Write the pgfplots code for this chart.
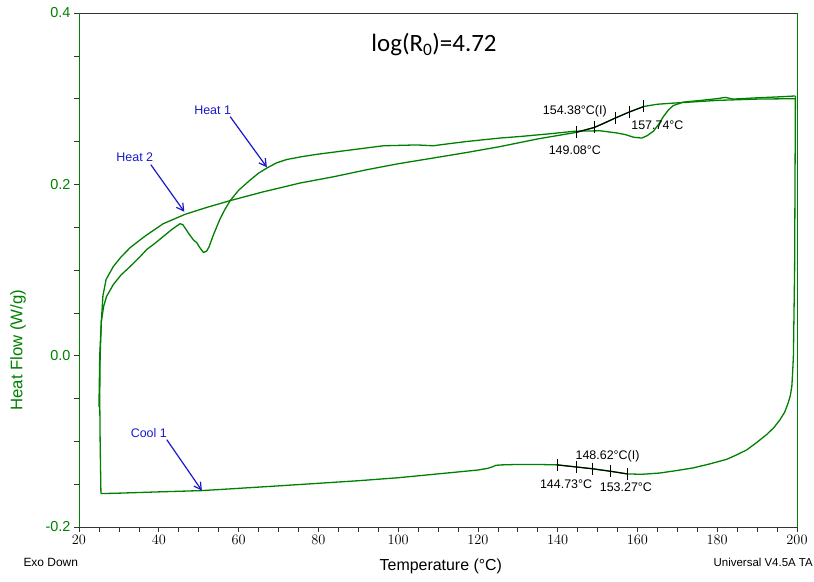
\documentclass[border=0pt]{standalone}
\usepackage{pgfplots}
\pgfplotsset{compat=1.18}
\usepackage{fontspec}
\setmainfont{Liberation Sans}
\newfontfamily\titlefont{Carlito}
\usetikzlibrary{arrows.meta}
\definecolor{dsc}{RGB}{0,128,0}
\definecolor{ann}{RGB}{25,25,205}
\begin{document}
\begin{tikzpicture}
\begin{axis}[
  scale only axis, width=718bp, height=514bp,
  xmin=20, xmax=200, ymin=-0.2, ymax=0.4,
  xtick={20,40,...,200},
  ytick={-0.2,0,0.2,0.4},
  yticklabels={-0.2,0.0,0.2,0.4},
  minor x tick num=3, minor y tick num=3,
  tick align=outside, tick pos=left,
  major tick length=5bp, minor tick length=5bp,
  every tick/.style={black!80, line width=0.6bp},
  separate axis lines,
  x axis line style={black!80, line width=0.8bp},
  y axis line style={dsc, line width=0.9bp},
  yticklabel style={text=dsc, font=\fontsize{14.5}{16}\selectfont},
  xticklabel style={font=\fontsize{14.5}{16}\selectfont},
  xlabel={Temperature (°C)},
  ylabel={Heat Flow (W/g)},
  xlabel style={font=\fontsize{16}{18}\selectfont, at={(axis description cs:0.504,-0.076)}, anchor=center},
  ylabel style={font=\fontsize{16.8}{18}\selectfont, text=dsc, at={(axis description cs:-0.085,0.344)}, anchor=center, rotate=0},
  clip=false,
]
\coordinate (SW) at (rel axis cs:0,0);
\coordinate (NE) at (rel axis cs:1,1);
% Heat 1
\addplot[dsc, line width=1.3bp] coordinates {
(25.0,-0.06) (25.2,0.00) (25.6,0.04) (26.2,0.058) (26.9,0.069) (28.6,0.083)
(30.5,0.094) (32.8,0.104) (35,0.114) (37.0,0.124) (39,0.131) (41.1,0.139)
(43.2,0.147) (45.3,0.154) (46.0,0.153) (46.6,0.149) (47.6,0.142) (48.7,0.135)
(49.5,0.132) (50.3,0.126) (51.2,0.1205) (52.0,0.122) (52.6,0.127) (53.7,0.141)
(55.3,0.159) (56.5,0.170) (57.9,0.181) (60,0.193) (62.9,0.205) (65,0.213)
(67.1,0.219) (69.5,0.225) (72.1,0.229) (75.5,0.232) (79.6,0.235) (87.9,0.240)
(96.3,0.245) (104.7,0.246) (108.8,0.245) (112,0.247) (117.2,0.250) (125.5,0.254)
(131,0.256) (138,0.259) (144.3,0.262) (150.6,0.2625) (154.8,0.260) (157,0.258)
(159,0.255) (161.1,0.254) (162.5,0.257) (164,0.262) (165.3,0.270) (166.5,0.279)
(167.8,0.287) (169,0.292) (171.5,0.296) (176,0.298) (180,0.300) (182,0.3015)
(184,0.2995) (190,0.301) (195,0.302) (199,0.303) (199.6,0.303)
};
% Cool 1
\addplot[dsc, line width=1.3bp] coordinates {
(199.6,0.303) (199.4,0.10) (199.1,0.0) (198.9,-0.02) (198.7,-0.036) (198.3,-0.047)
(197.8,-0.055) (196.9,-0.066) (195.7,-0.075) (194.2,-0.084) (192.4,-0.092)
(190,-0.101) (187.4,-0.110) (185,-0.1155) (182.4,-0.121) (178,-0.1265)
(174,-0.131) (170,-0.134) (165.6,-0.137) (161,-0.1385) (157.4,-0.138)
(153.3,-0.135) (148.7,-0.132) (144.8,-0.130) (139.9,-0.1275) (135,-0.127)
(130,-0.127) (126,-0.1275) (124.5,-0.128) (123.5,-0.130) (122.5,-0.1315)
(120,-0.1335) (110,-0.138) (100,-0.1425) (90,-0.146) (80,-0.149) (70,-0.152)
(57.9,-0.1555) (50.8,-0.1575) (40,-0.159) (30,-0.1605) (25.5,-0.161)
};
% Heat 2
\addplot[dsc, line width=1.3bp] coordinates {
(25.5,-0.161) (25.3,-0.10) (25.2,-0.05) (25.3,0.00) (25.6,0.04) (26.0,0.07)
(26.8,0.089) (28.6,0.104) (30.5,0.115) (32.8,0.126) (35,0.134) (37.0,0.141)
(41.1,0.154) (46.6,0.165) (52,0.173) (57.9,0.181) (66,0.191) (75.4,0.2015)
(84,0.209) (92.1,0.217) (100,0.224) (108.8,0.2307) (117,0.237) (125.5,0.244)
(135,0.253) (144.6,0.2606) (149.2,0.2664) (152,0.272) (154.4,0.2773)
(157.9,0.2843) (161.6,0.2909) (165,0.2935) (169,0.2948) (175,0.2965)
(180,0.298) (190,0.2995) (199.6,0.300)
};
% analysis marks
\addplot[black, line width=1.1bp, mark=|, mark size=6bp, mark options={line width=0.9bp}] coordinates {
(144.6,0.2606) (149.2,0.2664) (154.4,0.2773) (157.9,0.2843) (161.6,0.2909)
};
\addplot[black, line width=1.1bp, mark=|, mark size=6bp, mark options={line width=0.9bp}] coordinates {
(139.9,-0.1275) (144.8,-0.130) (148.7,-0.132) (153.3,-0.135) (157.4,-0.138)
};
\node[font=\fontsize{12.5}{14}\selectfont] at (axis cs:144.3,0.285) {154.38°C(I)};
\node[font=\fontsize{12.5}{14}\selectfont] at (axis cs:165.0,0.2695) {157.74°C};
\node[font=\fontsize{12.5}{14}\selectfont] at (axis cs:144.3,0.240) {149.08°C};
\node[font=\fontsize{12.5}{14}\selectfont] at (axis cs:152.5,-0.117) {148.62°C(I)};
\node[font=\fontsize{12.5}{14}\selectfont] at (axis cs:142.1,-0.1505) {144.73°C};
\node[font=\fontsize{12.5}{14}\selectfont] at (axis cs:157.1,-0.153) {153.27°C};
% labels with arrows
\node[ann, font=\fontsize{12.5}{14}\selectfont] at (axis cs:53.5,0.287) {Heat 1};
\draw[ann, line width=1.2bp, -{Straight Barb[length=7bp,width=8bp]}] (axis cs:57.9,0.279) -- (axis cs:67.1,0.220);
\node[ann, font=\fontsize{12.5}{14}\selectfont] at (axis cs:34.0,0.232) {Heat 2};
\draw[ann, line width=1.2bp, -{Straight Barb[length=7bp,width=8bp]}] (axis cs:38.0,0.223) -- (axis cs:46.4,0.168);
\node[ann, font=\fontsize{12.5}{14}\selectfont] at (axis cs:37.5,-0.0904) {Cool 1};
\draw[ann, line width=1.2bp, -{Straight Barb[length=7bp,width=8bp]}] (axis cs:42.0,-0.098) -- (axis cs:50.8,-0.1575);
\node[font=\titlefont\fontsize{25}{28}\selectfont] at (axis cs:109.0,0.363) {log(R\textsubscript{0})=4.72};
\end{axis}
\node[anchor=west, font=\fontsize{12}{14}\selectfont] at ([xshift=-59bp,yshift=-35bp]SW) {Exo Down};
\node[anchor=east, inner xsep=1bp, font=\fontsize{11.5}{14}\selectfont] at ([xshift=17bp,yshift=-35bp]SW -| NE) {Universal V4.5A TA};
\pgfresetboundingbox
\path[use as bounding box] ([xshift=-79bp,yshift=-55bp]SW) rectangle ([xshift=17bp,yshift=13bp]NE);
\end{tikzpicture}
\end{document}
